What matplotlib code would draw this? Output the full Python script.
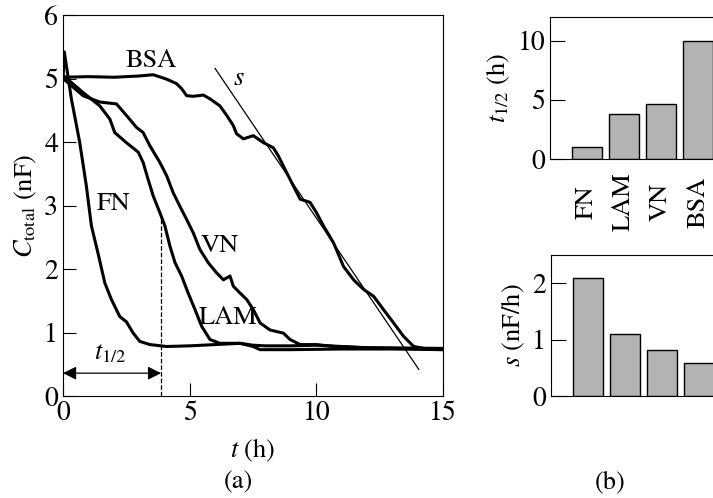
import matplotlib
matplotlib.use("Agg")
import matplotlib.pyplot as plt
import numpy as np

plt.rcParams['font.family'] = ['STIXGeneral', 'DejaVu Serif']
plt.rcParams['mathtext.fontset'] = 'stix'
plt.rcParams['font.size'] = 19

# curves: t (h), C_total (nF)
fn_t = [0, 0.05, 0.33, 0.66, 0.92, 1.12, 1.38, 1.65, 1.91, 2.24, 2.5, 2.77, 3.03, 3.43, 4.09,
        5.0, 6.0, 7.0, 7.5, 8.0, 9.0, 10.0, 12.0, 15.0]
fn_c = [5.0, 5.42, 4.68, 3.99, 3.31, 2.68, 2.25, 1.78, 1.52, 1.25, 1.17, 0.99, 0.86, 0.81, 0.78,
        0.79, 0.81, 0.83, 0.80, 0.79, 0.79, 0.80, 0.76, 0.74]

lam_t = [0, 0.79, 1.45, 1.85, 2.04, 2.5, 2.97, 3.16, 3.36, 3.56, 3.82, 4.02, 4.22, 4.42, 4.68,
         4.94, 5.21, 5.47, 5.8, 6.19, 6.98, 7.5, 7.78, 9.0, 11.0, 13.0, 15.0]
lam_c = [5.05, 4.78, 4.57, 4.36, 4.15, 3.99, 3.84, 3.68, 3.41, 3.15, 2.89, 2.68, 2.36, 2.10, 1.89,
         1.62, 1.36, 1.10, 0.89, 0.83, 0.83, 0.78, 0.73, 0.73, 0.74, 0.74, 0.73]

vn_t = [0, 0.79, 1.45, 2.11, 2.5, 2.9, 3.16, 3.43, 3.82, 4.09, 4.35, 4.61, 4.88, 5.14, 5.40,
        5.73, 6.06, 6.33, 6.59, 6.72, 6.99, 7.25, 7.51, 7.78, 8.17, 8.7, 8.96, 9.36, 10.0, 10.7,
        12.0, 15.0]
vn_c = [5.0, 4.73, 4.63, 4.60, 4.42, 4.23, 4.15, 3.94, 3.68, 3.47, 3.20, 2.99, 2.78, 2.57, 2.31,
        2.10, 1.94, 1.83, 1.89, 1.73, 1.62, 1.52, 1.36, 1.15, 1.04, 0.99, 0.89, 0.81, 0.81, 0.78,
        0.76, 0.75]

bsa_t = [0, 1.0, 2.0, 3.0, 3.56, 4.09, 4.48, 4.68, 4.88, 5.14, 5.54, 5.80, 6.19, 6.46, 6.72,
         6.85, 7.12, 7.51, 7.91, 8.30, 8.50, 8.7, 9.09, 9.36, 9.75, 10.0, 10.28, 10.68, 11.07,
         11.47, 11.86, 12.26, 12.65, 13.05, 13.44, 13.84, 14.37, 15.0]
bsa_c = [5.02, 5.03, 5.02, 5.04, 5.06, 4.99, 4.92, 4.84, 4.73, 4.72, 4.74, 4.68, 4.57, 4.42, 4.26,
         4.13, 4.05, 4.10, 3.99, 3.91, 3.78, 3.62, 3.31, 3.10, 3.05, 2.89, 2.68, 2.41, 2.04,
         1.83, 1.68, 1.57, 1.36, 1.15, 0.94, 0.78, 0.74, 0.73]

s_t = [6.0, 14.04]
s_c = [5.16, 0.42]
t_half = 3.87
t_half_c = 2.78

proteins = ['FN', 'LAM', 'VN', 'BSA']
t_half_vals = [1.0, 3.8, 4.66, 10.0]
s_vals = [2.10, 1.10, 0.81, 0.58]

fig = plt.figure(figsize=(7.13, 4.98), dpi=100)

ax = fig.add_axes([0.0884, 0.2048, 0.533, 0.765])
for t, c in [(fn_t, fn_c), (lam_t, lam_c), (vn_t, vn_c), (bsa_t, bsa_c)]:
    ax.plot(t, c, color='black', lw=2.2)
ax.plot(s_t, s_c, color='black', lw=0.9)
ax.plot([t_half, t_half], [0, t_half_c], color='black', lw=0.9, ls='--')
ax.annotate('', xy=(0, 0.36), xytext=(t_half, 0.36),
            arrowprops=dict(arrowstyle='<|-|>', color='black', lw=0.9,
                            mutation_scale=20, shrinkA=0, shrinkB=0))
ax.text(1.85, 0.67, r'$t_{1/2}$', ha='center', va='center')
ax.text(3.49, 5.28, 'BSA', ha='center', va='center')
ax.text(6.92, 4.99, r'$s$', ha='center', va='center')
ax.text(1.98, 3.02, 'FN', ha='center', va='center')
ax.text(6.19, 2.36, 'VN', ha='center', va='center')
ax.text(6.52, 1.23, 'LAM', ha='center', va='center')

ax.set_xlim(0, 15)
ax.set_ylim(0, 6)
ax.set_xticks([0, 5, 10, 15])
ax.set_yticks([0, 1, 2, 3, 4, 5, 6])
ax.tick_params(direction='in', length=9.5, width=0.8, top=False, right=False,
               labelsize=20)
ax.set_xlabel(r'$t$ (h)', labelpad=8)
ax.set_ylabel(r'$C_{\mathrm{total}}$ (nF)', labelpad=4)
fig.text(0.335, 0.032, '(a)', ha='center', va='center')

x = np.arange(len(proteins))

ax1 = fig.add_axes([0.7714, 0.6807, 0.2595, 0.2851])
ax1.bar(x, t_half_vals, width=0.8, color='#b3b3b3', edgecolor='black', lw=1.0)
ax1.set_xlim(-1.0, 4.0)
ax1.set_ylim(0, 12)
ax1.set_yticks([0, 5, 10])
ax1.set_xticks(x)
ax1.set_xticklabels(proteins, rotation=90, va='center')
ax1.tick_params(axis='y', direction='in', length=11, width=0.8, labelsize=20)
ax1.tick_params(axis='x', length=0, pad=31)
ax1.spines['right'].set_visible(False)
ax1.set_ylabel(r'$t_{1/2}$ (h)', labelpad=4)

ax2 = fig.add_axes([0.7728, 0.2048, 0.2595, 0.283])
ax2.bar(x, s_vals, width=0.8, color='#b3b3b3', edgecolor='black', lw=1.0)
ax2.set_xlim(-1.0, 4.0)
ax2.set_ylim(0, 2.5)
ax2.set_yticks([0, 1, 2])
ax2.set_xticks([])
ax2.tick_params(axis='y', direction='in', length=11, width=0.8, labelsize=20)
ax2.spines['right'].set_visible(False)
ax2.set_ylabel(r'$s$ (nF/h)', labelpad=4)
fig.text(0.856, 0.032, '(b)', ha='center', va='center')

fig.savefig('out.png', dpi=100)
